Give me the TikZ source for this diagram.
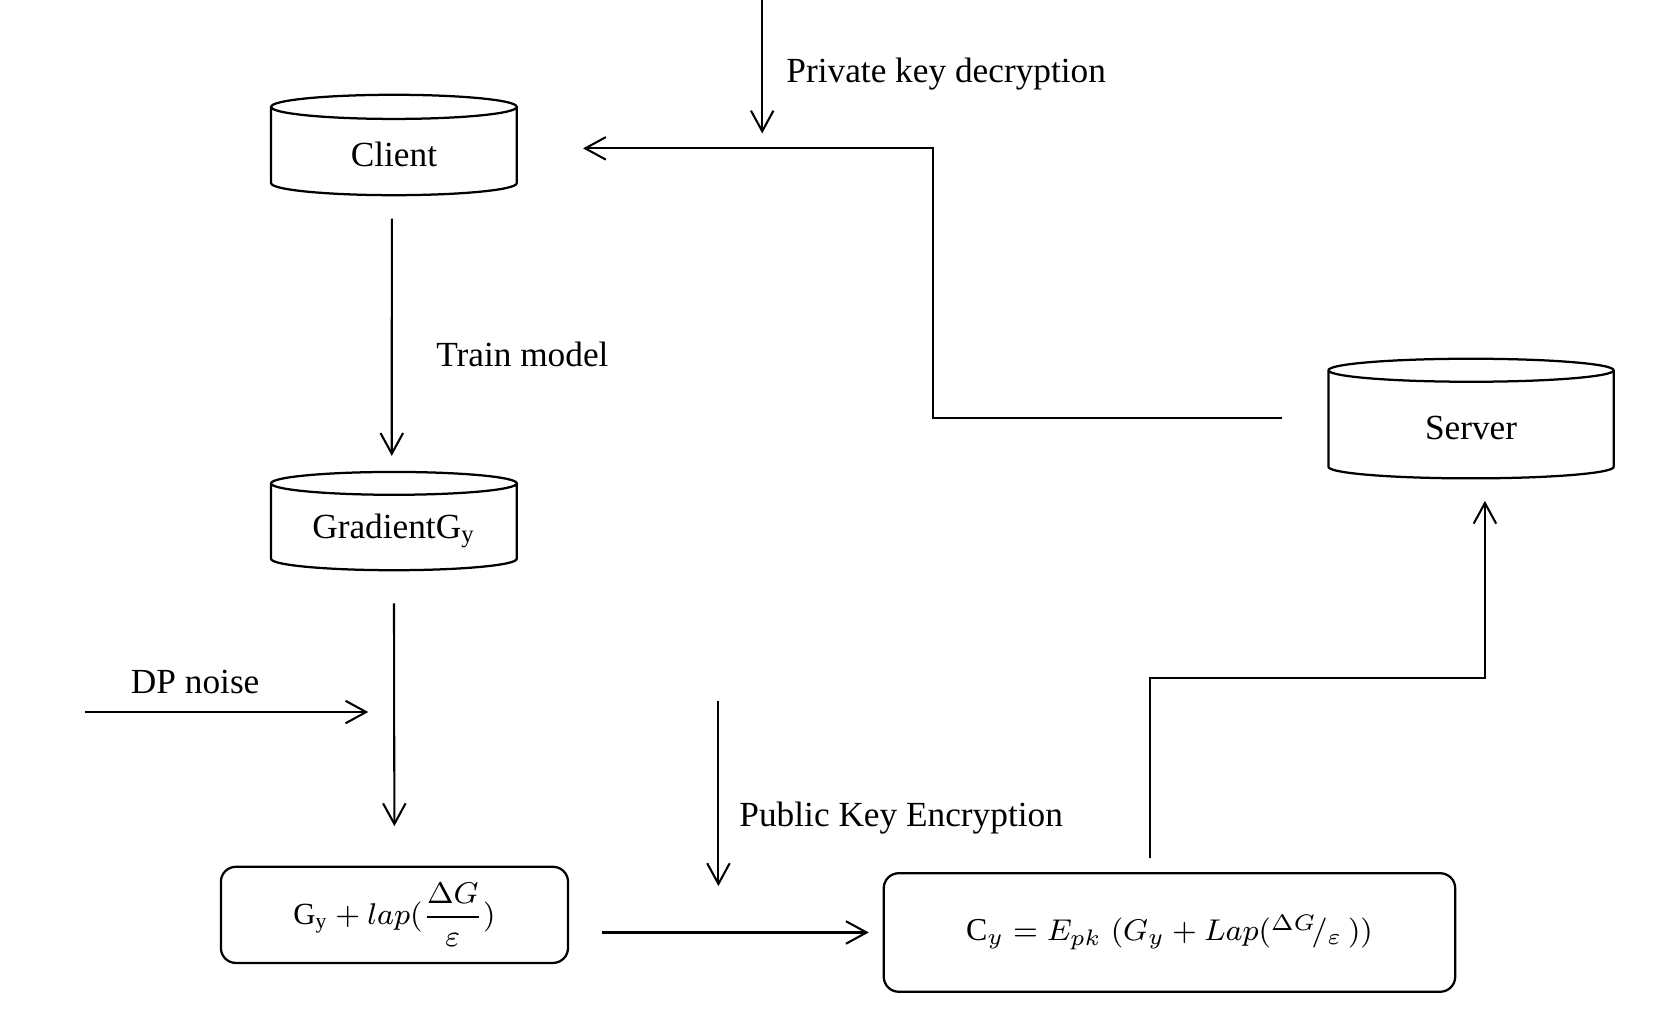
\documentclass[tikz,border=0pt]{standalone}
\usepackage{amsmath}
\usepackage{fontspec}
\setmainfont{Liberation Serif}
\usetikzlibrary{shapes.geometric,arrows.meta}
\tikzset{
    every node/.style={font=\fontsize{9.4}{11}\selectfont}
}
\tikzset{
    db/.style={cylinder, shape border rotate=90, draw, line width=0.6pt,
    	aspect=0.25, inner sep=0pt}
}
\tikzset{
    box/.style={rectangle, rounded corners=4pt, draw, line width=0.6pt,
    	inner sep=0pt}
}
\tikzset{
    lbl/.style={anchor=west, inner sep=0pt}
}
\tikzset{
    arr/.style={-{Straight Barb[length=5.5pt,width=6pt]}, line width=0.55pt}
}
\newcommand{\down}[1]{\raisebox{-0.03cm}[\height][\depth]{#1}}

\begin{document}
\begin{tikzpicture}[x=0.01cm, y=-0.01cm]
	\useasboundingbox (0,0) rectangle (1570,952);
	\node (client) [db, aspect=0.28, minimum width=2.3cm, minimum height=0.94cm] at (369,142) {\down{Client}};
	\node (grad) [db, aspect=0.14, minimum width=2.3cm, minimum height=0.92cm] at (369,494) {\down{Gradient$\mathrm{G_y}$}};
	\node (server) [db, minimum width=2.67cm, minimum height=1.12cm] at (1378,398) {\down{Server}};
	\node (noisy) [box, minimum width=3.25cm, minimum height=0.9cm, font=\fontsize{8.2}{10}\selectfont]
		at (369.5,857) {$\mathrm{G_y}+lap(\dfrac{\Delta G}{\varepsilon})$};
	\node (cipher) [box, minimum width=5.35cm, minimum height=1.11cm, font=\fontsize{8.5}{10}\selectfont]
		at (1095.5,873.5) {$\mathrm{C}_y = E_{pk}\;(G_y + Lap({}^{\Delta G}\!/_{\varepsilon}\,))$};

	\coordinate (key) at (714,0);
	\coordinate (bend) at (874,139);
	\coordinate (dp) at (80,667);
	\coordinate (pub) at (673,657);
	\coordinate (up) at (1391,635);

	\draw[arr] (key) -- ++(0,125);
	\node [lbl] at (736,69) {Private key decryption};
	\draw[arr, shorten <=0.42cm, shorten >=0.61cm] (server.west |- bend) ++(0,253) -| (bend) -- (client.east |- bend);
	\draw[arr, shorten <=0.21cm, shorten >=0.14cm] ([xshift=-0.02cm]client.south) -- ([xshift=-0.02cm]grad.north);
	\node [lbl] at (408,332) {Train model};
	\draw[arr, shorten <=0.3cm, shorten >=0.37cm] (grad.south) -- (noisy.north);
	\draw[arr] (dp) -- ++(265,0);
	\node [lbl] at (122,639) {DP noise};
	\draw[arr] (pub) -- ++(0,173);
	\node [lbl] at (692,766) {Public Key Encryption};
	\draw[arr, shorten <=0.31cm, shorten >=0.13cm] (noisy.east |- cipher.west) -- (cipher.west);
	\draw[arr, shorten <=0.13cm, shorten >=0.2cm] ([xshift=-0.18cm]cipher.north) |- (up) -- (up |- server.south);
\end{tikzpicture}
\end{document}
